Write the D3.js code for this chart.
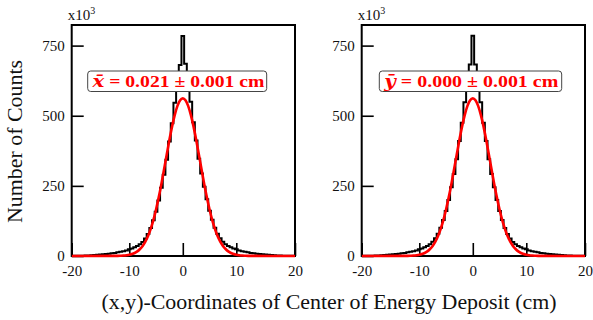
<!DOCTYPE html>
<html>
<head>
<meta charset="utf-8">
<script src="https://cdn.jsdelivr.net/npm/d3@7"></script>
<style>
  html, body { margin: 0; padding: 0; background: #fff; }
  svg { display: block; }
</style>
</head>
<body>
<svg id="chart" width="593" height="320"></svg>
<script>
// ---------- data (counts in units of 10^3) ----------
const binCenters = d3.range(-40, 41).map(k => k * 0.5);   // bin centres, 0.5 cm bins
const binWidth = 0.5;

const countsX = [0.3,0.5,0.7,1.0,1.3,1.7,2.2,2.8,3.5,4.2,5,6,7,8,9.5,11,13,15,17,20,
  24,27,31,36,42,50,62,78,100,127,158,198,243,290,343,408,473,546,618,681,
  784,
  685,622,550,477,412,347,294,247,202,161,129,101,79,63,51,42,36,31,27,24,
  20,17,15,13,11,9.5,8,7,6,5,4.2,3.5,2.8,2.2,1.7,1.3,1.0,0.7,0.5,0.3];

const countsY = [0.3,0.5,0.7,1.0,1.3,1.7,2.2,2.8,3.5,4.2,5,6,7,8,9.5,11,13,15,17,20,
  24,27,31,36,42,51,63,79,101,128,160,200,245,292,345,410,475,548,620,683,
  785,
  683,620,548,475,410,345,292,245,200,160,128,100,78,62,50,42,36,31,27,24,
  20,17,15,13,11,9.5,8,7,6,5,4.2,3.5,2.8,2.2,1.7,1.3,1.0,0.7,0.5,0.3];

// Gaussian fit curves
const fitXs = [-20,-12,-11.5,-11,-10.5,-10,-9.5,-9,-8.5,-8,-7.5,-7,-6.5,-6,-5.5,-5,-4.5,-4,-3.5,-3,-2.5,-2,-1.5,-1,-0.5,
  0,0.5,1,1.5,2,2.5,3,3.5,4,4.5,5,5.5,6,6.5,7,7.5,8,8.5,9,9.5,10,10.5,11,11.5,12,20];
const fitCountsX = [0,0.5,0.9,1.5,2.6,4.3,6.9,10.8,16.5,25,36,51,71,97,128,166,209,257,309,362,414,462,503,535,555,
  562,555,535,503,462,414,362,309,257,209,166,128,97,71,51,36,25,16.5,10.8,6.9,4.3,2.6,1.5,0.9,0.5,0];
const fitCountsY = [0,0.5,0.9,1.5,2.6,4.3,6.9,10.8,16.5,25,36,51,71,97,128,166,209,257,309,362,414,462,503,535,555,
  562,555,535,503,462,414,362,309,257,209,166,128,97,71,51,36,25,16.5,10.8,6.9,4.3,2.6,1.5,0.9,0.5,0];

const xTicks = [-20, -10, 0, 10, 20];
const yTicks = [0, 250, 500, 750];
const labelVars = ["x\u0304", "\u0233"];
const labelRest = [" = 0.021 \u00B1 0.001 cm", " = 0.000 \u00B1 0.001 cm"];
const xTitle = "(x,y)-Coordinates of Center of Energy Deposit (cm)";
const yTitle = "Number of Counts";

// ---------- layout ----------
const svg = d3.select("#chart");
const panels = [
  { left: 71.7, counts: countsX, fit: fitCountsX, v: labelVars[0], rest: labelRest[0], boxX: 87.7, boxW: 179, txtX: 92.5, txtW: 172 },
  { left: 361.7, counts: countsY, fit: fitCountsY, v: labelVars[1], rest: labelRest[1], boxX: 379.3, boxW: 182.4, txtX: 384.3, txtW: 174 }
];
const frameTop = 25, frameBottom = 256, W = 223.3;
const serif = "'Liberation Serif', 'Times New Roman', serif";

panels.forEach((p, i) => {
  const x = d3.scaleLinear().domain([-20, -10, 10, 20]).range([p.left, p.left + 57.6, p.left + 164.6, p.left + W]);
  const y = d3.scaleLinear().domain([0, 750]).range([frameBottom, 45.6]);
  const g = svg.append("g");

  const clipId = "clip" + i;
  svg.append("clipPath").attr("id", clipId).append("rect")
    .attr("x", p.left).attr("y", frameTop).attr("width", W).attr("height", frameBottom - frameTop + 3);

  // axes
  const yAxis = d3.axisLeft(y).tickValues(yTicks).tickSize(-12).tickPadding(7).tickFormat(d => String(d));
  const ga = g.append("g").attr("transform", `translate(${p.left},0)`).call(yAxis);
  ga.select(".domain").remove();
  ga.selectAll("line").attr("stroke", "#000").attr("stroke-width", 1.6);
  ga.selectAll("text").attr("font-family", serif).attr("font-size", 15).attr("fill", "#111");

  const xAxis = d3.axisBottom(x).tickValues(xTicks).tickSize(-13).tickPadding(9).tickFormat(d => String(d));
  const gx = g.append("g").attr("transform", `translate(0,${frameBottom})`).call(xAxis);
  gx.select(".domain").remove();
  gx.selectAll("line").attr("stroke", "#000").attr("stroke-width", 1.6);
  gx.selectAll("text").attr("font-family", serif).attr("font-size", 15).attr("fill", "#111");

  // histogram (step outline)
  const pts = binCenters.map((c, j) => [c - binWidth / 2, p.counts[j]]);
  pts.push([binCenters[binCenters.length - 1] + binWidth / 2, p.counts[p.counts.length - 1]]);
  const step = d3.line().x(d => x(d[0])).y(d => y(d[1])).curve(d3.curveStepAfter);
  g.append("path").attr("clip-path", `url(#${clipId})`)
    .attr("d", step(pts)).attr("fill", "none").attr("stroke", "#000").attr("stroke-width", 2);

  // frame
  g.append("rect").attr("x", p.left).attr("y", frameTop).attr("width", W).attr("height", frameBottom - frameTop)
    .attr("fill", "none").attr("stroke", "#000").attr("stroke-width", 2);

  // fit curve
  const fl = d3.line().x((d, j) => x(fitXs[j])).y(d => y(d)).curve(d3.curveMonotoneX);
  g.append("path").attr("clip-path", `url(#${clipId})`)
    .attr("d", fl(p.fit)).attr("fill", "none").attr("stroke", "#ff0000").attr("stroke-width", 2.6);

  // x10^3
  const t = g.append("text").attr("x", p.left - 4).attr("y", 20)
    .attr("font-family", serif).attr("font-size", 15).attr("fill", "#111");
  t.append("tspan").text("x10");
  t.append("tspan").attr("font-size", 10).attr("dy", -6).text("3");

  // label box
  g.append("rect").attr("x", p.boxX).attr("y", 71).attr("width", p.boxW).attr("height", 20.5)
    .attr("rx", 3).attr("fill", "#fff").attr("stroke", "#444").attr("stroke-width", 1);
  const lt = g.append("text").attr("x", p.txtX).attr("y", 86.5)
    .attr("font-size", 16).attr("font-weight", "bold").attr("fill", "#ff0000")
    .attr("textLength", p.txtW).attr("lengthAdjust", "spacingAndGlyphs");
  lt.append("tspan").attr("font-family", "'DejaVu Serif', serif").attr("font-style", "italic").text(p.v);
  lt.append("tspan").attr("font-family", serif).text(p.rest);
});

// titles
svg.append("text").attr("x", 329).attr("y", 309).attr("text-anchor", "middle")
  .attr("font-family", serif).attr("font-size", 21).attr("fill", "#111")
  .attr("textLength", 455).attr("lengthAdjust", "spacingAndGlyphs").text(xTitle);
svg.append("text").attr("transform", "translate(22,141.5) rotate(-90)").attr("text-anchor", "middle")
  .attr("font-family", serif).attr("font-size", 21).attr("fill", "#111")
  .attr("textLength", 163).attr("lengthAdjust", "spacingAndGlyphs").text(yTitle);
</script>
</body>
</html>
